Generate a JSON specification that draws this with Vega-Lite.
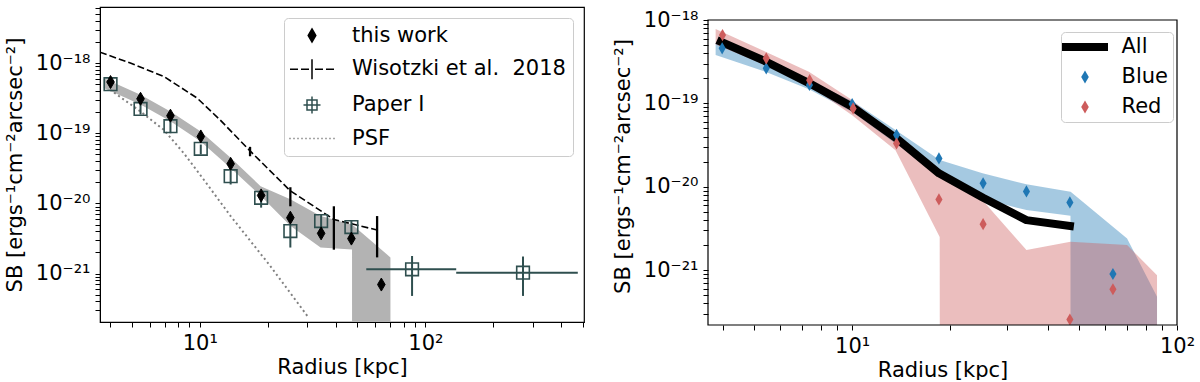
{
  "$schema": "https://vega.github.io/schema/vega-lite/v6.json",
  "padding": {"left": 3, "top": -4, "right": 0, "bottom": 0},
  "spacing": 27,
  "config": {
    "font": "DejaVu Sans",
    "axis": {"labelFont": "DejaVu Sans", "titleFont": "DejaVu Sans", "labelFontSize": 21, "titleFontSize": 21, "titleFontWeight": "normal", "labelColor": "black", "titleColor": "black", "domainColor": "black", "tickColor": "black", "grid": false, "labelFlush": false, "labelOverlap": false, "labelBound": false, "tickSize": 5, "labelPadding": 5},
    "axisY": {"titlePadding": 10},
    "axisX": {"titlePadding": 3},
    "view": {"stroke": "black", "strokeWidth": 1.2}
  },
  "datasets": {
    "band": [
      {"r": 3.75, "lo": 4.4e-19, "hi": 6.1e-19},
      {"r": 5.46, "lo": 2.56e-19, "hi": 3.55e-19},
      {"r": 7.41, "lo": 1.48e-19, "hi": 2.04e-19},
      {"r": 10.06, "lo": 7.7e-20, "hi": 1.07e-19},
      {"r": 13.7, "lo": 3.2e-20, "hi": 4.47e-20},
      {"r": 18.6, "lo": 1.29e-20, "hi": 1.76e-20},
      {"r": 25.2, "lo": 4.8e-21, "hi": 1.15e-20},
      {"r": 34.3, "lo": 2.35e-21, "hi": 6.6e-21},
      {"r": 47.3, "lo": 2.2e-21, "hi": 5.0e-21},
      {"r": 47.35, "lo": 1e-25, "hi": 5.0e-21},
      {"r": 70, "lo": 1e-25, "hi": 1.7e-21}
    ],
    "wis": [
      {"r": 3.61, "sb": 1.43e-18},
      {"r": 4.92, "sb": 1.0e-18},
      {"r": 6.92, "sb": 6.45e-19},
      {"r": 9.73, "sb": 3.17e-19},
      {"r": 12.3, "sb": 1.55e-19},
      {"r": 16.7, "sb": 5.6e-20},
      {"r": 25.2, "sb": 1.51e-20},
      {"r": 39.3, "sb": 5.9e-21},
      {"r": 61.1, "sb": 4.17e-21}
    ],
    "wiserr": [
      {"r": 16.7, "lo": 4.7e-20, "hi": 6.4e-20},
      {"r": 25.2, "lo": 9.1e-21, "hi": 1.7e-20},
      {"r": 39.3, "lo": 2.19e-21, "hi": 9.1e-21},
      {"r": 61.1, "lo": 1.7e-21, "hi": 6.6e-21}
    ],
    "psf": [
      {"r": 4.0, "sb": 4.17e-19},
      {"r": 5.46, "sb": 2.04e-19},
      {"r": 6.92, "sb": 1.12e-19},
      {"r": 8.49, "sb": 5.2e-20},
      {"r": 10.4, "sb": 2.19e-20},
      {"r": 13.7, "sb": 6.6e-21},
      {"r": 20.5, "sb": 1.29e-21},
      {"r": 30.4, "sb": 2.34e-22}
    ],
    "paper1": [
      {"r": 4.02, "sb": 5.0e-19, "lo": 4.5e-19, "hi": 5.6e-19},
      {"r": 5.46, "sb": 2.22e-19, "lo": 1.85e-19, "hi": 2.6e-19},
      {"r": 7.41, "sb": 1.26e-19, "lo": 1.0e-19, "hi": 1.48e-19},
      {"r": 10.1, "sb": 6.0e-20, "lo": 5.0e-20, "hi": 6.9e-20},
      {"r": 13.7, "sb": 2.44e-20, "lo": 1.86e-20, "hi": 2.9e-20},
      {"r": 18.7, "sb": 1.2e-20, "lo": 8.7e-21, "hi": 1.47e-20},
      {"r": 25.2, "sb": 4.04e-21, "lo": 2.35e-21, "hi": 5.0e-21},
      {"r": 34.5, "sb": 5.6e-21, "lo": 4.27e-21, "hi": 6.9e-21},
      {"r": 47, "sb": 4.6e-21, "lo": 3.8e-21, "hi": 5.6e-21},
      {"r": 87.3, "sb": 1.15e-21, "lo": 4.8e-22, "hi": 1.78e-21},
      {"r": 271, "sb": 1.03e-21, "lo": 4.8e-22, "hi": 1.75e-21}
    ],
    "paper1h": [
      {"sb": 1.15e-21, "rlo": 54.7, "rhi": 137},
      {"sb": 1.03e-21, "rlo": 137, "rhi": 474}
    ],
    "thiswork": [
      {"s": "this work", "r": 4.02, "sb": 5.37e-19},
      {"s": "this work", "r": 5.46, "sb": 3.1e-19},
      {"s": "this work", "r": 7.41, "sb": 1.78e-19},
      {"s": "this work", "r": 10.1, "sb": 9.0e-20},
      {"s": "this work", "r": 13.7, "sb": 3.66e-20},
      {"s": "this work", "r": 18.7, "sb": 1.3e-20},
      {"s": "this work", "r": 25.2, "sb": 6.26e-21},
      {"s": "this work", "r": 34.5, "sb": 3.74e-21},
      {"s": "this work", "r": 47, "sb": 3.15e-21},
      {"s": "this work", "r": 63.8, "sb": 6.97e-22}
    ],
    "blueband": [
      {"r": 3.8, "lo": 3.8e-19, "hi": 5.25e-19},
      {"r": 5.41, "lo": 2.4e-19, "hi": 3.16e-19},
      {"r": 7.36, "lo": 1.48e-19, "hi": 1.9e-19},
      {"r": 10, "lo": 7.9e-20, "hi": 1.07e-19},
      {"r": 13.6, "lo": 3.3e-20, "hi": 4.8e-20},
      {"r": 18.6, "lo": 1.38e-20, "hi": 2.09e-20},
      {"r": 25.2, "lo": 7.2e-21, "hi": 1.45e-20},
      {"r": 34.4, "lo": 5.25e-21, "hi": 1.07e-20},
      {"r": 47, "lo": 4.5e-21, "hi": 8.7e-21},
      {"r": 47.05, "lo": 1e-25, "hi": 8.7e-21},
      {"r": 70.2, "lo": 1e-25, "hi": 2.4e-21},
      {"r": 86.8, "lo": 1e-25, "hi": 4.8e-22}
    ],
    "redband": [
      {"r": 3.8, "lo": 5.1e-19, "hi": 7.8e-19},
      {"r": 5.41, "lo": 2.88e-19, "hi": 4.17e-19},
      {"r": 7.36, "lo": 1.66e-19, "hi": 2.4e-19},
      {"r": 10, "lo": 7.2e-20, "hi": 1.1e-19},
      {"r": 13.6, "lo": 2.75e-20, "hi": 3.8e-20},
      {"r": 18.6, "lo": 2.5e-21, "hi": 1.32e-20},
      {"r": 18.65, "lo": 1e-25, "hi": 1.32e-20},
      {"r": 25.2, "lo": 1e-25, "hi": 6.9e-21},
      {"r": 34.4, "lo": 1e-25, "hi": 1.74e-21},
      {"r": 47, "lo": 1e-25, "hi": 2.19e-21},
      {"r": 70.2, "lo": 1e-25, "hi": 2.0e-21},
      {"r": 86.8, "lo": 1e-25, "hi": 8.7e-22}
    ],
    "all": [
      {"r": 3.94, "sb": 5.5e-19},
      {"r": 5.44, "sb": 3.16e-19},
      {"r": 7.39, "sb": 1.74e-19},
      {"r": 10, "sb": 9.1e-20},
      {"r": 13.7, "sb": 3.8e-20},
      {"r": 18.5, "sb": 1.45e-20},
      {"r": 25.3, "sb": 7.4e-21},
      {"r": 34.4, "sb": 3.98e-21},
      {"r": 46.8, "sb": 3.39e-21}
    ],
    "colors": [
      {"g": "Blue", "r": 3.98, "sb": 4.57e-19},
      {"g": "Blue", "r": 5.44, "sb": 2.63e-19},
      {"g": "Blue", "r": 7.39, "sb": 1.66e-19},
      {"g": "Blue", "r": 10, "sb": 9.8e-20},
      {"g": "Blue", "r": 13.7, "sb": 4.2e-20},
      {"g": "Blue", "r": 18.5, "sb": 2.19e-20},
      {"g": "Blue", "r": 25.3, "sb": 1.1e-20},
      {"g": "Blue", "r": 34.4, "sb": 8.8e-21},
      {"g": "Blue", "r": 46.8, "sb": 6.5e-21},
      {"g": "Blue", "r": 63.5, "sb": 9.0e-22},
      {"g": "Red", "r": 3.99, "sb": 6.6e-19},
      {"g": "Red", "r": 5.44, "sb": 3.47e-19},
      {"g": "Red", "r": 7.4, "sb": 1.9e-19},
      {"g": "Red", "r": 10.07, "sb": 8.7e-20},
      {"g": "Red", "r": 13.7, "sb": 3.3e-20},
      {"g": "Red", "r": 18.5, "sb": 7.05e-21},
      {"g": "Red", "r": 25.3, "sb": 3.56e-21},
      {"g": "Red", "r": 46.8, "sb": 2.56e-22},
      {"g": "Red", "r": 63.5, "sb": 5.9e-22}
    ],
    "frame": [
      {"xa": 3.6, "xb": 100, "ya": 2.2e-22, "yb": 1e-18}
    ]
  },
  "hconcat": [
    {
      "width": 484,
      "height": 315,
      "encoding": {
        "x": {"field": "r", "type": "quantitative", "title": "Radius [kpc]",
          "scale": {"type": "log", "domain": [3.61, 505], "nice": false},
          "axis": {"values": [4, 5, 6, 7, 8, 9, 10, 20, 30, 40, 50, 60, 70, 80, 90, 100, 200, 300, 400, 500],
            "labelExpr": "datum.value == 10 ? '10¹' : datum.value == 100 ? '10²' : ''",
            "encode": {"ticks": {"update": {"y2": {"signal": "(datum.value == 10 || datum.value == 100) ? 5 : 3"}}},
              "labels": {"update": {"fontSize": {"signal": "(datum.value == 10 || datum.value == 100) ? 21 : 0"}}}}}},
        "y": {"field": "sb", "type": "quantitative", "title": "SB [ergs⁻¹cm⁻²arcsec⁻²]",
          "scale": {"type": "log", "domain": [2.04e-22, 6.3e-18], "nice": false},
          "axis": {"values": [3e-22, 4e-22, 5e-22, 6e-22, 7e-22, 8e-22, 9e-22, 1e-21, 2e-21, 3e-21, 4e-21, 5e-21, 6e-21, 7e-21, 8e-21, 9e-21, 1e-20, 2e-20, 3e-20, 4e-20, 5e-20, 6e-20, 7e-20, 8e-20, 9e-20, 1e-19, 2e-19, 3e-19, 4e-19, 5e-19, 6e-19, 7e-19, 8e-19, 9e-19, 1e-18, 2e-18, 3e-18, 4e-18, 5e-18, 6e-18],
            "labelExpr": "abs(log(datum.value)/LN10 - round(log(datum.value)/LN10)) > 0.01 ? '' : round(log(datum.value)/LN10) == -18 ? '10⁻¹⁸' : round(log(datum.value)/LN10) == -19 ? '10⁻¹⁹' : round(log(datum.value)/LN10) == -20 ? '10⁻²⁰' : '10⁻²¹'",
            "encode": {"ticks": {"update": {"x2": {"signal": "abs(log(datum.value)/LN10 - round(log(datum.value)/LN10)) > 0.01 ? -3 : -5"}}},
              "labels": {"update": {"fontSize": {"signal": "abs(log(datum.value)/LN10 - round(log(datum.value)/LN10)) > 0.01 ? 0 : 21"}}}}}}
      },
      "layer": [
        {
          "data": {"name": "band"},
          "mark": {"type": "area", "clip": true, "color": "#b3b3b3", "opacity": 1},
          "encoding": {
            "y": {"field": "hi", "type": "quantitative", "title": "SB [ergs⁻¹cm⁻²arcsec⁻²]", "scale": {"type": "log", "domain": [2.04e-22, 6.3e-18], "nice": false}},
            "y2": {"field": "lo"}
          }
        },
        {
          "data": {"name": "wis"},
          "mark": {"type": "line", "clip": true, "color": "black", "strokeWidth": 1.6, "strokeDash": [7, 3]}
        },
        {
          "data": {"name": "psf"},
          "mark": {"type": "line", "clip": true, "color": "gray", "strokeWidth": 2, "strokeDash": [2, 3]}
        },
        {
          "data": {"name": "wiserr"},
          "mark": {"type": "rule", "clip": true, "color": "black", "strokeWidth": 2.3},
          "encoding": {
            "y": {"field": "hi", "type": "quantitative", "title": "SB [ergs⁻¹cm⁻²arcsec⁻²]", "scale": {"type": "log", "domain": [2.04e-22, 6.3e-18], "nice": false}},
            "y2": {"field": "lo"}
          }
        },
        {
          "data": {"name": "paper1"},
          "mark": {"type": "rule", "clip": true, "color": "#2f4f4f", "strokeWidth": 2},
          "encoding": {
            "y": {"field": "hi", "type": "quantitative", "title": "SB [ergs⁻¹cm⁻²arcsec⁻²]", "scale": {"type": "log", "domain": [2.04e-22, 6.3e-18], "nice": false}},
            "y2": {"field": "lo"}
          }
        },
        {
          "data": {"name": "paper1h"},
          "mark": {"type": "rule", "clip": true, "color": "#2f4f4f", "strokeWidth": 2},
          "encoding": {
            "x": {"field": "rlo", "type": "quantitative", "title": "Radius [kpc]", "scale": {"type": "log", "domain": [3.61, 505], "nice": false}},
            "x2": {"field": "rhi"}
          }
        },
        {
          "data": {"name": "paper1"},
          "mark": {"type": "point", "clip": true, "shape": "square", "size": 160, "filled": false, "stroke": "#2f4f4f", "strokeWidth": 1.6, "opacity": 1}
        },
        {
          "data": {"name": "thiswork"},
          "mark": {"type": "point", "clip": true, "size": 400, "filled": true, "strokeWidth": 1, "opacity": 1},
          "encoding": {
            "shape": {"field": "s", "type": "nominal",
              "scale": {"domain": ["this work", "Wisotzki et al. 2018", "Paper I", "PSF"],
                "range": ["M0,-0.65L0.38,0L0,0.65L-0.38,0Z", "M-2.2,0H-1.4M-1.1,0H-0.3M0,-1V1M0.3,0H1.1M1.4,0H2.2", "M-0.5,-0.5H0.5V0.5H-0.5ZM0,-0.85V0.85M-0.85,0H0.85", "M-2.27,0H-2.13M-1.87,0H-1.73M-1.47,0H-1.33M-1.07,0H-0.93M-0.67,0H-0.53M-0.27,0H-0.13M0.13,0H0.27M0.53,0H0.67M0.93,0H1.07M1.33,0H1.47M1.73,0H1.87M2.13,0H2.27"]},
              "legend": {"orient": "top-right", "offset": 11, "title": null, "labelFontSize": 21, "labelFont": "DejaVu Sans", "labelColor": "black", "symbolSize": 400, "symbolStrokeWidth": 1.5, "symbolOffset": 10.5, "labelOffset": 29, "rowPadding": 10.7, "padding": 6.5, "strokeColor": "#cccccc", "fillColor": "white", "cornerRadius": 4, "labelLimit": 400, "labelExpr": "datum.label == 'Wisotzki et al. 2018' ? 'Wisotzki et al. \u00a02018' : datum.label"}},
            "fill": {"field": "s", "type": "nominal",
              "scale": {"domain": ["this work", "Wisotzki et al. 2018", "Paper I", "PSF"], "range": ["black", "transparent", "transparent", "transparent"]},
              "legend": {"orient": "top-right", "offset": 11, "title": null, "labelFontSize": 21, "labelFont": "DejaVu Sans", "labelColor": "black", "symbolSize": 400, "symbolStrokeWidth": 1.5, "symbolOffset": 10.5, "labelOffset": 29, "rowPadding": 10.7, "padding": 6.5, "strokeColor": "#cccccc", "fillColor": "white", "cornerRadius": 4, "labelLimit": 400, "labelExpr": "datum.label == 'Wisotzki et al. 2018' ? 'Wisotzki et al. \u00a02018' : datum.label"}},
            "stroke": {"field": "s", "type": "nominal",
              "scale": {"domain": ["this work", "Wisotzki et al. 2018", "Paper I", "PSF"], "range": ["black", "black", "#2f4f4f", "gray"]},
              "legend": {"orient": "top-right", "offset": 11, "title": null, "labelFontSize": 21, "labelFont": "DejaVu Sans", "labelColor": "black", "symbolSize": 400, "symbolStrokeWidth": 1.5, "symbolOffset": 10.5, "labelOffset": 29, "rowPadding": 10.7, "padding": 6.5, "strokeColor": "#cccccc", "fillColor": "white", "cornerRadius": 4, "labelLimit": 400, "labelExpr": "datum.label == 'Wisotzki et al. 2018' ? 'Wisotzki et al. \u00a02018' : datum.label"}}
          }
        }
      ]
    },
    {
      "width": 469,
      "height": 318,
      "view": {"stroke": null},
      "encoding": {
        "x": {"field": "r", "type": "quantitative", "title": "Radius [kpc]",
          "scale": {"type": "log", "domain": [3.6, 100], "nice": false},
          "axis": {"values": [4, 5, 6, 7, 8, 9, 10, 20, 30, 40, 50, 60, 70, 80, 90, 100], "domain": false,
            "labelExpr": "datum.value == 10 ? '10¹' : datum.value == 100 ? '10²' : ''",
            "encode": {"ticks": {"update": {"y2": {"signal": "(datum.value == 10 || datum.value == 100) ? 5 : 3"}}},
              "labels": {"update": {"fontSize": {"signal": "(datum.value == 10 || datum.value == 100) ? 21 : 0"}}}}}},
        "y": {"field": "sb", "type": "quantitative", "title": "SB [ergs⁻¹cm⁻²arcsec⁻²]",
          "scale": {"type": "log", "domain": [2.2e-22, 1.432e-18], "nice": false},
          "axis": {"values": [3e-22, 4e-22, 5e-22, 6e-22, 7e-22, 8e-22, 9e-22, 1e-21, 2e-21, 3e-21, 4e-21, 5e-21, 6e-21, 7e-21, 8e-21, 9e-21, 1e-20, 2e-20, 3e-20, 4e-20, 5e-20, 6e-20, 7e-20, 8e-20, 9e-20, 1e-19, 2e-19, 3e-19, 4e-19, 5e-19, 6e-19, 7e-19, 8e-19, 9e-19, 1e-18], "domain": false,
            "labelExpr": "abs(log(datum.value)/LN10 - round(log(datum.value)/LN10)) > 0.01 ? '' : round(log(datum.value)/LN10) == -18 ? '10⁻¹⁸' : round(log(datum.value)/LN10) == -19 ? '10⁻¹⁹' : round(log(datum.value)/LN10) == -20 ? '10⁻²⁰' : '10⁻²¹'",
            "encode": {"ticks": {"update": {"x2": {"signal": "abs(log(datum.value)/LN10 - round(log(datum.value)/LN10)) > 0.01 ? -3 : -5"}}},
              "labels": {"update": {"fontSize": {"signal": "abs(log(datum.value)/LN10 - round(log(datum.value)/LN10)) > 0.01 ? 0 : 21"}}}}}}
      },
      "layer": [
        {
          "data": {"name": "blueband"},
          "mark": {"type": "area", "clip": true, "color": "#1f77b4", "opacity": 0.4},
          "encoding": {
            "y": {"field": "hi", "type": "quantitative", "title": "SB [ergs⁻¹cm⁻²arcsec⁻²]", "scale": {"type": "log", "domain": [2.2e-22, 1.432e-18], "nice": false}},
            "y2": {"field": "lo"}
          }
        },
        {
          "data": {"name": "redband"},
          "mark": {"type": "area", "clip": true, "color": "#cd5c5c", "opacity": 0.4},
          "encoding": {
            "y": {"field": "hi", "type": "quantitative", "title": "SB [ergs⁻¹cm⁻²arcsec⁻²]", "scale": {"type": "log", "domain": [2.2e-22, 1.432e-18], "nice": false}},
            "y2": {"field": "lo"}
          }
        },
        {
          "data": {"name": "all"},
          "mark": {"type": "line", "clip": true, "color": "black", "strokeWidth": 8, "strokeCap": "square", "strokeJoin": "round"}
        },
        {
          "data": {"name": "colors"},
          "mark": {"type": "point", "clip": true, "size": 350, "filled": true, "strokeWidth": 0, "opacity": 1},
          "encoding": {
            "shape": {"field": "g", "type": "nominal",
              "scale": {"domain": ["All", "Blue", "Red"], "range": ["M-2.3,-0.4H2.3V0.4H-2.3Z", "M0,-0.65L0.38,0L0,0.65L-0.38,0Z", "M0,-0.65L0.38,0L0,0.65L-0.38,0Z"]},
              "legend": {"orient": "none", "legendX": 353, "legendY": 25, "title": null, "labelFontSize": 21, "labelFont": "DejaVu Sans", "labelColor": "black", "symbolSize": 400, "symbolStrokeWidth": 0, "symbolOffset": 9, "labelOffset": 26, "rowPadding": 8, "padding": 4.5, "strokeColor": "#cccccc", "fillColor": "white", "cornerRadius": 4}},
            "fill": {"field": "g", "type": "nominal",
              "scale": {"domain": ["All", "Blue", "Red"], "range": ["black", "#1f77b4", "#cd5c5c"]},
              "legend": {"orient": "none", "legendX": 353, "legendY": 25, "title": null, "labelFontSize": 21, "labelFont": "DejaVu Sans", "labelColor": "black", "symbolSize": 400, "symbolStrokeWidth": 0, "symbolOffset": 9, "labelOffset": 26, "rowPadding": 8, "padding": 4.5, "strokeColor": "#cccccc", "fillColor": "white", "cornerRadius": 4}}
          }
        },
        {
          "data": {"name": "frame"},
          "mark": {"type": "rect", "fill": "transparent", "stroke": "black", "strokeWidth": 1.2, "clip": false},
          "encoding": {
            "x": {"field": "xa", "type": "quantitative", "title": "Radius [kpc]", "scale": {"type": "log", "domain": [3.6, 100], "nice": false}},
            "x2": {"field": "xb"},
            "y": {"field": "ya", "type": "quantitative", "title": "SB [ergs⁻¹cm⁻²arcsec⁻²]", "scale": {"type": "log", "domain": [2.2e-22, 1.432e-18], "nice": false}},
            "y2": {"field": "yb"}
          }
        }
      ]
    }
  ],
  "resolve": {"scale": {"x": "independent", "y": "independent", "shape": "independent", "fill": "independent", "stroke": "independent"}}
}
